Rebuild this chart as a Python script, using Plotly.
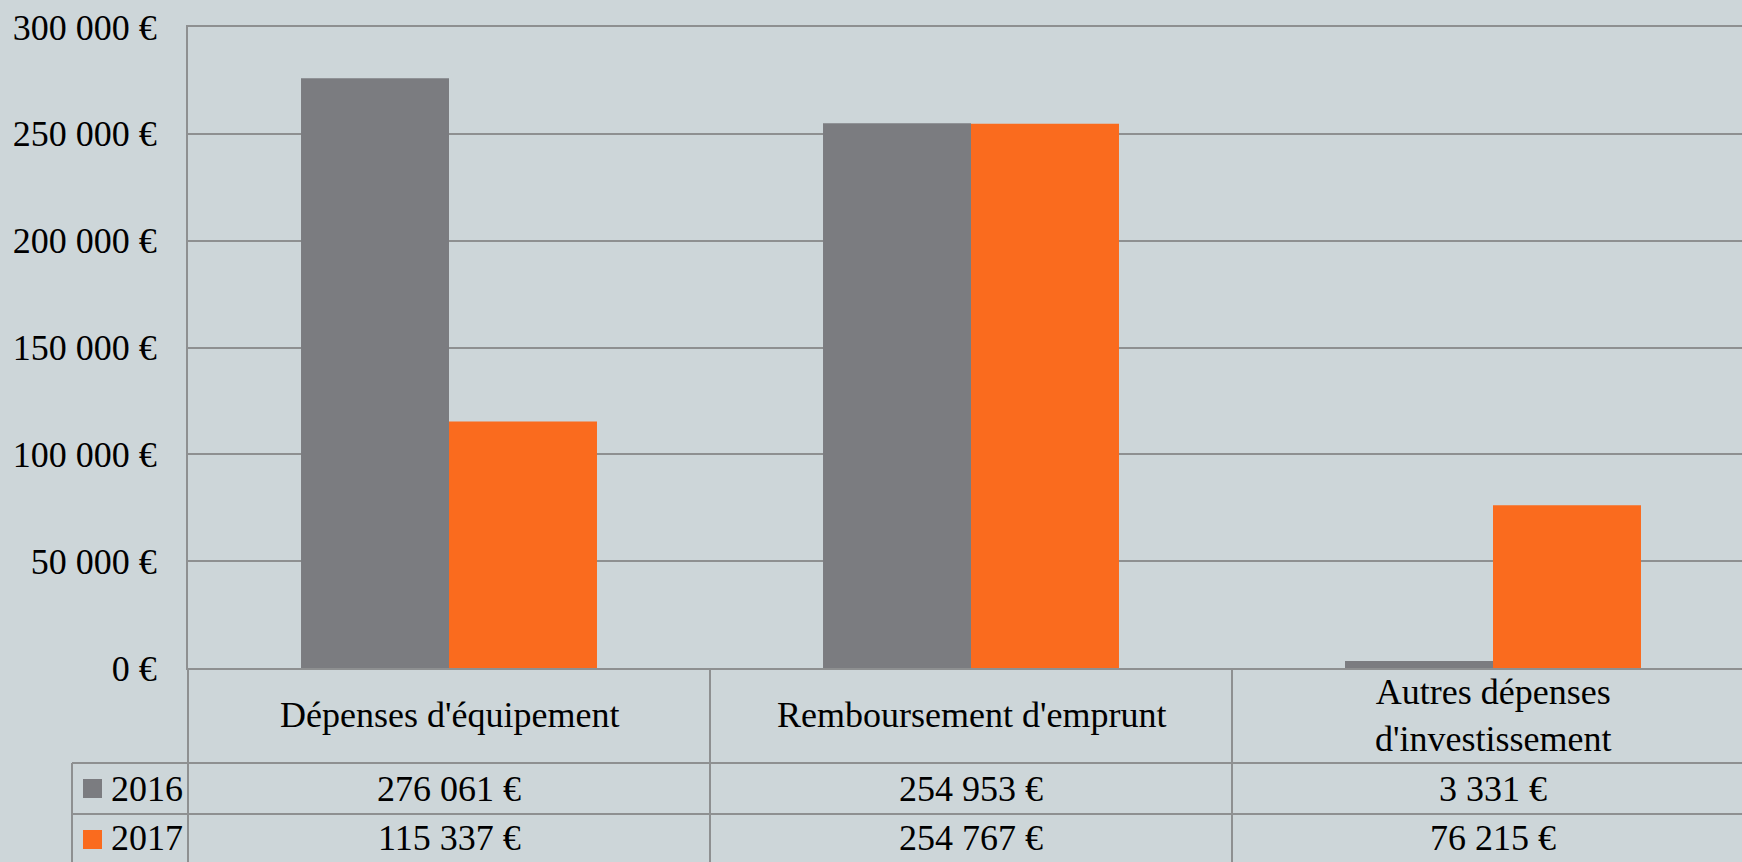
import plotly.graph_objects as go

# ---- data ----
categories = ["Dépenses d'équipement", "Remboursement d'emprunt", "Autres dépenses d'investissement"]
category_labels = ["Dépenses d'équipement", "Remboursement d'emprunt", "Autres dépenses<br>d'investissement"]
years = ["2016", "2017"]
values_2016 = [276061, 254953, 3331]
values_2017 = [115337, 254767, 76215]
y_ticks = [0, 50000, 100000, 150000, 200000, 250000, 300000]

# ---- style ----
W, H = 1742, 862
ML, MR, MT, MB = 188, 0, 27, 194
BG = "#CDD6D9"
LINE = "#8E9091"
GRAY = "#7B7C80"
ORANGE = "#FA6B1E"
FONT = "Liberation Serif"
FS = 36
colors = [GRAY, ORANGE]

plot_w = W - ML - MR
plot_h = H - MT - MB


def py(ypix):
    return (H - MB - ypix) / plot_h


def px(xpix):
    return (xpix - ML) / plot_w


def fmt(v):
    return f"{v:,}".replace(",", " ") + " €"


fig = go.Figure()
for yr, vals, col in zip(years, [values_2016, values_2017], colors):
    fig.add_trace(go.Bar(name=yr, x=categories, y=vals, marker=dict(color=col, line=dict(width=0)),
                         showlegend=False))

cat_w = 522
fig.update_layout(
    width=W, height=H,
    margin=dict(l=ML, r=MR, t=MT, b=MB, pad=0),
    paper_bgcolor=BG, plot_bgcolor=BG,
    barmode="group", bargap=0.433, bargroupgap=0,
    font=dict(family=FONT, size=FS, color="#000000"),
    xaxis=dict(type="category", range=[-0.5, -0.5 + plot_w / cat_w], automargin=False,
               showticklabels=False, showgrid=False, zeroline=False,
               showline=True, linecolor=LINE, linewidth=2, mirror=True,
               tickson="boundaries", ticks="outside", ticklen=MB + 5,
               tickcolor=LINE, tickwidth=2),
    yaxis=dict(range=[0, 300000], tickvals=y_ticks, ticktext=[fmt(v) for v in y_ticks],
               automargin=False,
               showgrid=True, gridcolor=LINE, gridwidth=2, zeroline=False,
               showline=True, linecolor=LINE, linewidth=2, ticks="",
               ticklabelstandoff=22, tickfont=dict(family=FONT, size=FS, color="#000000")),
)

annotations = []
# category row
for cat, lab in zip(categories, category_labels):
    annotations.append(dict(x=cat, xref="x", y=py(715.5), yref="paper", text=lab,
                            showarrow=False, xanchor="center", yanchor="middle",
                            font=dict(family=FONT, size=FS, color="#000000")))
# value rows
row_y = [py(788.5), py(838)]
for yr, vals, col, ry in zip(years, [values_2016, values_2017], colors, row_y):
    for cat, v in zip(categories, vals):
        annotations.append(dict(x=cat, xref="x", y=ry, yref="paper", text=fmt(v),
                                showarrow=False, xanchor="center", yanchor="middle",
                                font=dict(family=FONT, size=FS, color="#000000")))
    annotations.append(dict(x=px(109), xref="paper", y=ry, yref="paper", text=yr,
                            showarrow=False, xanchor="left", yanchor="middle",
                            font=dict(family=FONT, size=FS, color="#000000")))
fig.update_layout(annotations=annotations)

shapes = []
# table horizontal lines
for ypix in [763, 814]:
    shapes.append(dict(type="line", xref="paper", yref="paper", x0=px(72), x1=1,
                       y0=py(ypix), y1=py(ypix), line=dict(color=LINE, width=2)))
# left border of legend column
shapes.append(dict(type="line", xref="paper", yref="paper", x0=px(72), x1=px(72),
                   y0=py(763), y1=py(H + 5), line=dict(color=LINE, width=2)))
# legend keys
for col, cy in zip(colors, [788.5, 839.5]):
    shapes.append(dict(type="rect", xref="paper", yref="paper", x0=px(83), x1=px(102),
                       y0=py(cy - 9.5), y1=py(cy + 9.5), fillcolor=col, line=dict(width=0)))
fig.update_layout(shapes=shapes)

fig.write_html("out.html", config={"displayModeBar": False},
               post_script="document.body.style.margin='0';document.body.style.overflow='hidden';")
